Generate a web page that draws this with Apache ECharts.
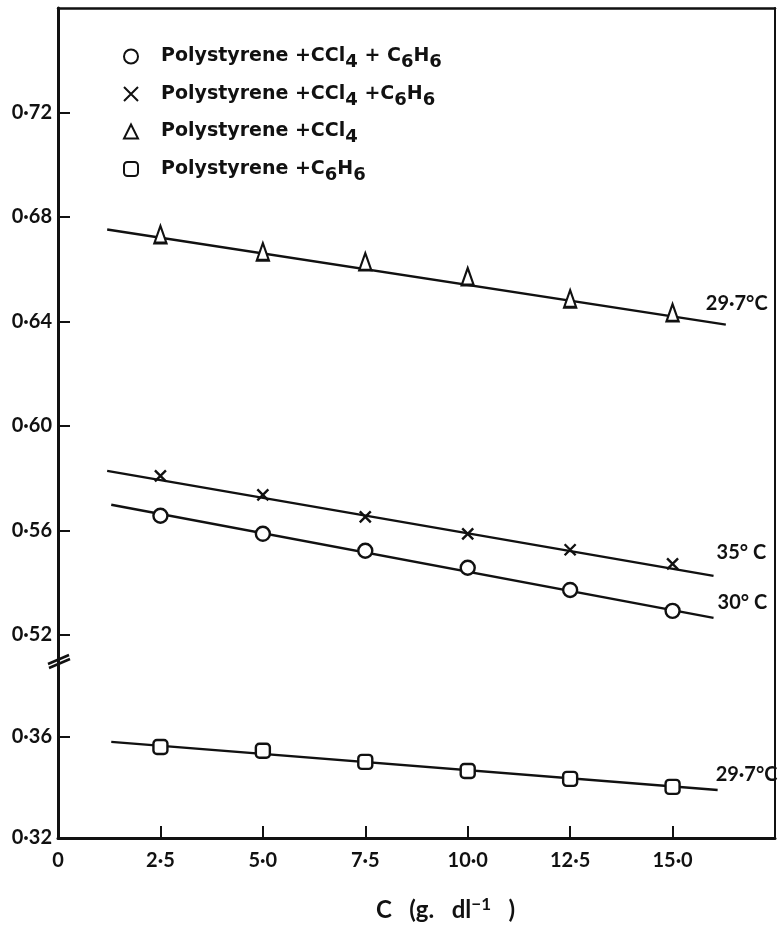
<!DOCTYPE html>
<html>
<head>
<meta charset="utf-8">
<script src="https://cdn.jsdelivr.net/npm/echarts@6/dist/echarts.min.js"></script>
<style>
  html, body { margin: 0; background: #fff; }
  #main { width: 780px; height: 930px; }
</style>
</head>
<body>
<div id="main"></div>
<script>
// concentration C (g dl^-1)
const concentrations = [2.5, 5.0, 7.5, 10.0, 12.5, 15.0];

// measured points
const mixed30 = [0.5656, 0.5587, 0.5522, 0.5457, 0.5372, 0.5292];   // circles, 30 C
const mixed35 = [0.5809, 0.5736, 0.5652, 0.5587, 0.5526, 0.5472];   // crosses, 35 C
const ccl4 = [0.6733, 0.6667, 0.6629, 0.6572, 0.6487, 0.6434];      // triangles, 29.7 C
const benzene = [0.3560, 0.3545, 0.3501, 0.3465, 0.3434, 0.3402];   // squares, 29.7 C

// straight lines drawn through the points (end points)
const fitCcl4 = [[1.2, 0.6752], [16.3, 0.6388]];
const fit35 = [[1.2, 0.5828], [16.0, 0.5426]];
const fit30 = [[1.3, 0.5698], [16.0, 0.5265]];
const fitBenzene = [[1.3, 0.3580], [16.1, 0.3390]];

// axes
const xLabelValues = [0, 2.5, 5.0, 7.5, 10.0, 12.5, 15.0];
const xTickValues = [2.5, 5.0, 7.5, 10.0, 12.5, 15.0];
const yTicksUpper = [0.52, 0.56, 0.60, 0.64, 0.68, 0.72];
const yTicksLower = [0.32, 0.36];
const upperRange = [0.51, 0.76];
const lowerRange = [0.32, 0.39];

const FONT = 'Lato, "DejaVu Sans", sans-serif';
const LEGEND_FONT = '"DejaVu Sans", sans-serif';
const INK = '#111';

const legendText = {
  'Polystyrene + CCl4 + C6H6 (30 C)': 'Polystyrene +CCl{s|4} + C{s|6}H{s|6}',
  'Polystyrene + CCl4 + C6H6 (35 C)': 'Polystyrene +CCl{s|4} +C{s|6}H{s|6}',
  'Polystyrene + CCl4': 'Polystyrene +CCl{s|4}',
  'Polystyrene + C6H6': 'Polystyrene +C{s|6}H{s|6}'
};

const dot = (v, d) => v.toFixed(d).replace('.', '·');

const chart = echarts.init(document.getElementById('main'));

const markerStyle = { color: '#fff', borderColor: INK, borderWidth: 2.4, opacity: 1 };
const labelFont = { fontFamily: FONT, fontSize: 20, fontWeight: 'bold', color: INK };

function points(name, values, symbol, size, lower) {
  return {
    type: 'scatter',
    name: name,
    xAxisIndex: lower ? 1 : 0,
    yAxisIndex: lower ? 2 : 0,
    data: concentrations.map((c, i) => [c, values[i]]),
    symbol: symbol,
    symbolSize: size,
    itemStyle: markerStyle,
    z: 5,
    silent: true
  };
}

function fitLine(data, text, offset, lower) {
  return {
    type: 'line',
    xAxisIndex: lower ? 1 : 0,
    yAxisIndex: lower ? 2 : 0,
    data: data,
    symbol: 'none',
    lineStyle: { color: INK, width: 2.4 },
    endLabel: Object.assign({ show: true, formatter: text, offset: offset, distance: 0 }, labelFont),
    z: 3,
    silent: true
  };
}

const crossPath = 'path://M0,0L10,10M10,0L0,10';

const option = {
  backgroundColor: '#fff',
  animation: false,
  grid: [
    { left: 58, right: 5, top: 8, bottom: 269, outerBoundsMode: 'none' },
    { left: 58, right: 5, top: 661, bottom: 92, outerBoundsMode: 'none' }
  ],
  legend: {
    data: Object.keys(legendText),
    orient: 'vertical',
    left: 118,
    top: 42,
    itemWidth: 14,
    itemHeight: 14,
    itemGap: 13,
    formatter: n => legendText[n],
    textStyle: {
      fontFamily: LEGEND_FONT, fontSize: 19, fontWeight: 'bold', color: INK,
      padding: [0, 0, 0, 18],
      rich: {
        s: { fontFamily: LEGEND_FONT, fontSize: 18, fontWeight: 'bold', color: INK, padding: [12, 0, 0, 0] }
      }
    },
    selectedMode: false
  },
  xAxis: [
    {
      gridIndex: 0, type: 'value', position: 'top', min: 0, max: 17.5,
      axisLine: { lineStyle: { color: INK, width: 2.5 } },
      axisTick: { show: false }, axisLabel: { show: false }, splitLine: { show: false }
    },
    {
      gridIndex: 1, type: 'value', position: 'bottom', min: 0, max: 17.5,
      axisLine: { lineStyle: { color: INK, width: 3 } },
      axisTick: { inside: true, length: 12, customValues: xTickValues, lineStyle: { color: INK, width: 2 } },
      axisLabel: Object.assign({ customValues: xLabelValues, margin: 13, formatter: v => v === 0 ? '0' : dot(v, 1) }, labelFont),
      splitLine: { show: false },
      name: '{t|C   (g.   dl}{u|−1}{t|   )}',
      nameLocation: 'middle',
      nameGap: 58,
      nameTextStyle: {
        padding: [0, 0, 0, 58],
        rich: {
          t: { fontFamily: FONT, fontSize: 24, fontWeight: 'bold', color: INK },
          u: { fontFamily: FONT, fontSize: 17, fontWeight: 'bold', color: INK, padding: [0, 0, 12, 0] }
        }
      }
    }
  ],
  yAxis: [
    {
      gridIndex: 0, type: 'value', min: upperRange[0], max: upperRange[1],
      axisLine: { show: true, lineStyle: { color: INK, width: 3 } },
      axisTick: { inside: true, length: 12, customValues: yTicksUpper, lineStyle: { color: INK, width: 2 } },
      axisLabel: Object.assign({ customValues: yTicksUpper, margin: 6, formatter: v => dot(v, 2) }, labelFont),
      splitLine: { show: false }
    },
    {
      gridIndex: 0, type: 'value', position: 'right', min: upperRange[0], max: upperRange[1],
      axisLine: { show: true, lineStyle: { color: INK, width: 2 } },
      axisTick: { show: false }, axisLabel: { show: false }, splitLine: { show: false }
    },
    {
      gridIndex: 1, type: 'value', min: lowerRange[0], max: lowerRange[1],
      axisLine: { show: true, lineStyle: { color: INK, width: 3 } },
      axisTick: { inside: true, length: 12, customValues: yTicksLower, lineStyle: { color: INK, width: 2 } },
      axisLabel: Object.assign({ customValues: yTicksLower, margin: 6, formatter: v => dot(v, 2) }, labelFont),
      splitLine: { show: false }
    },
    {
      gridIndex: 1, type: 'value', position: 'right', min: lowerRange[0], max: lowerRange[1],
      axisLine: { show: true, lineStyle: { color: INK, width: 2 } },
      axisTick: { show: false }, axisLabel: { show: false }, splitLine: { show: false }
    }
  ],
  series: [
    points('Polystyrene + CCl4 + C6H6 (30 C)', mixed30, 'circle', 14, false),
    points('Polystyrene + CCl4 + C6H6 (35 C)', mixed35, crossPath, 11, false),
    points('Polystyrene + CCl4', ccl4, 'triangle', [12, 17], false),
    points('Polystyrene + C6H6', benzene, 'roundRect', 14, true),
    fitLine(fitCcl4, '29·7°C', [-20, -21], false),
    fitLine(fit35, '35° C', [3, -23], false),
    fitLine(fit30, '30° C', [4, -15], false),
    fitLine(fitBenzene, '29·7°C', [-2, -15], true)
  ]
};

chart.setOption(option);

// axis break marks (//) where the two parts of the y axis meet
const bx = chart.convertToPixel({ xAxisIndex: 1 }, 0);
const by = chart.convertToPixel({ yAxisIndex: 2 }, lowerRange[1]);
chart.setOption({
  graphic: [
    { type: 'line', shape: { x1: bx - 10, y1: by + 3, x2: bx + 11, y2: by - 6 }, style: { stroke: INK, lineWidth: 2.5 } },
    { type: 'line', shape: { x1: bx - 9, y1: by + 7, x2: bx + 12, y2: by - 2 }, style: { stroke: INK, lineWidth: 2.5 } }
  ]
});
</script>
</body>
</html>
